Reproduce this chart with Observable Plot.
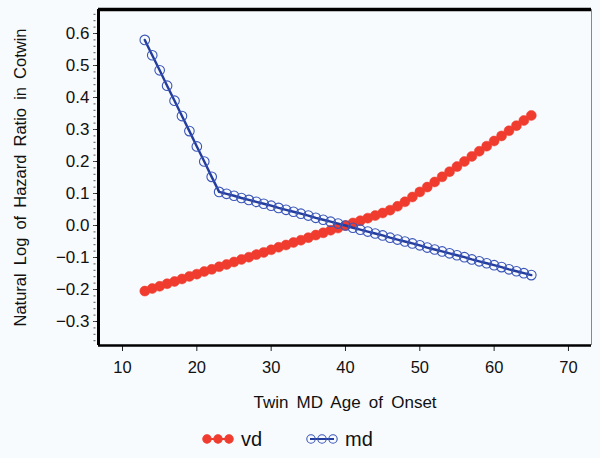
<!DOCTYPE html>
<html>
<head>
<meta charset="utf-8">
<script src="https://cdn.jsdelivr.net/npm/d3@7"></script>
<script src="https://cdn.jsdelivr.net/npm/@observablehq/plot@0.6"></script>
<style>
  html, body { margin: 0; padding: 0; background: #f8fbfd; }
  #wrap { width: 600px; height: 458px; position: relative; font-family: "Liberation Sans", Arial, sans-serif; }
  #wrap svg g[aria-label="text"] text { word-spacing: 3.5px; }
  #legend { position: absolute; left: 0; top: 426px; width: 600px; height: 26px; font-size: 20px; color: #111; }
  .item { position: absolute; top: 0; height: 26px; display: flex; align-items: center; }
  .item svg { margin-right: 7px; }
</style>
</head>
<body>
<div id="wrap"></div>
<script>
// ---- data ----
const ages = [13,14,15,16,17,18,19,20,21,22,23,24,25,26,27,28,29,30,31,32,33,34,35,36,37,38,39,40,
  41,42,43,44,45,46,47,48,49,50,51,52,53,54,55,56,57,58,59,60,61,62,63,64,65];
const vd = [-0.205,-0.197,-0.190,-0.182,-0.175,-0.167,-0.159,-0.152,-0.144,-0.137,-0.129,-0.122,-0.114,
  -0.106,-0.099,-0.091,-0.084,-0.076,-0.068,-0.061,-0.053,-0.046,-0.038,-0.030,-0.023,-0.015,-0.008,0.000,
  0.008,0.015,0.023,0.031,0.039,0.048,0.060,0.074,0.089,0.105,0.120,0.136,0.152,0.168,0.184,0.200,
  0.216,0.232,0.248,0.264,0.280,0.296,0.312,0.328,0.344];
const md = [0.580,0.532,0.485,0.437,0.390,0.342,0.295,0.247,0.200,0.152,0.105,0.099,0.093,0.086,0.080,
  0.074,0.068,0.062,0.055,0.049,0.043,0.037,0.031,0.024,0.018,0.012,0.006,0.000,-0.007,-0.013,-0.019,
  -0.025,-0.031,-0.038,-0.044,-0.050,-0.056,-0.062,-0.069,-0.075,-0.081,-0.087,-0.093,-0.099,-0.106,
  -0.112,-0.118,-0.124,-0.130,-0.137,-0.143,-0.149,-0.155];
const xTicks = [10,20,30,40,50,60,70];
const yTicks = [-0.3,-0.2,-0.1,0.0,0.1,0.2,0.3,0.4,0.5,0.6];
const yMinor = d3.range(-36, 68, 2).map(v => v / 100);
const xDomain = [6.77, 73.1];
const yDomain = [-0.375, 0.675];
const seriesNames = ["vd", "md"];
const xLabel = "Twin MD Age of Onset";
const yLabel = "Natural Log of Hazard Ratio in Cotwin";

const red = "#f03c2f", blueLine = "#243c9c", blueDot = "#3a55b8";

const vdData = ages.map((a, i) => ({age: a, v: vd[i]}));
const mdData = ages.map((a, i) => ({age: a, v: md[i]}));
const fmt = d => (d < 0 ? "\u2212" : "") + Math.abs(d).toFixed(1);

const chart = Plot.plot({
  width: 600,
  height: 426,
  marginLeft: 98,
  marginRight: 9,
  marginTop: 9,
  marginBottom: 81,
  style: {background: "transparent", fontFamily: "Liberation Sans, Arial, sans-serif", color: "#111"},
  x: {type: "linear", domain: xDomain},
  y: {type: "linear", domain: yDomain},
  marks: [
    Plot.axisX({ticks: xTicks, tickSize: 6, tickPadding: 10, fontSize: 16.5, label: null, stroke: "#222"}),
    Plot.axisY({ticks: yTicks, tickSize: 5, tickPadding: 4, fontSize: 17, tickFormat: fmt, label: null, stroke: "#222"}),
    Plot.ruleY(yMinor, {x1: xDomain[0], x2: xDomain[0], y: d => d, dx: -2.5, insetLeft: -2, stroke: "#555", strokeWidth: 1}),
    Plot.text([xLabel], {frameAnchor: "bottom", dy: 62, fontSize: 17, fill: "#111"}),
    Plot.text([yLabel], {frameAnchor: "left", dx: -78, rotate: -90, textAnchor: "middle", fontSize: 16.5, fill: "#111"}),
    // frame
    Plot.ruleX([xDomain[1]], {stroke: "#888", strokeWidth: 1}),
    Plot.ruleY([yDomain[1]], {stroke: "#000", strokeWidth: 3.5}),
    Plot.ruleY([yDomain[0]], {stroke: "#000", strokeWidth: 2.5}),
    Plot.ruleX([xDomain[0]], {stroke: "#000", strokeWidth: 3}),
    // series
    Plot.line(vdData, {x: "age", y: "v", stroke: red, strokeWidth: 2}),
    Plot.dot(vdData, {x: "age", y: "v", r: 5, fill: red, stroke: red, strokeWidth: 0.5}),
    Plot.line(mdData, {x: "age", y: "v", stroke: blueLine, strokeWidth: 2.4}),
    Plot.dot(mdData, {x: "age", y: "v", r: 4.8, fill: "none", stroke: blueDot, strokeWidth: 1.1})
  ]
});
document.getElementById("wrap").appendChild(chart);

// legend
const legend = document.createElement("div");
legend.id = "legend";
const colors = {vd: red, md: blueDot};
const lefts = [202, 306];
seriesNames.forEach((name, k) => {
  const item = document.createElement("div");
  item.className = "item";
  item.style.left = lefts[k] + "px";
  const s = d3.create("svg").attr("width", 32).attr("height", 12);
  s.append("line").attr("x1", 4).attr("x2", 28).attr("y1", 6).attr("y2", 6)
    .attr("stroke", k === 0 ? red : blueLine).attr("stroke-width", 2);
  [5, 16, 27].forEach(cx => {
    s.append("circle").attr("cx", cx).attr("cy", 6).attr("r", 4.2)
      .attr("fill", k === 0 ? red : "none").attr("stroke", colors[name]).attr("stroke-width", 1.1);
  });
  item.appendChild(s.node());
  const t = document.createElement("span");
  t.textContent = name;
  item.appendChild(t);
  legend.appendChild(item);
});
document.getElementById("wrap").appendChild(legend);
</script>
</body>
</html>
